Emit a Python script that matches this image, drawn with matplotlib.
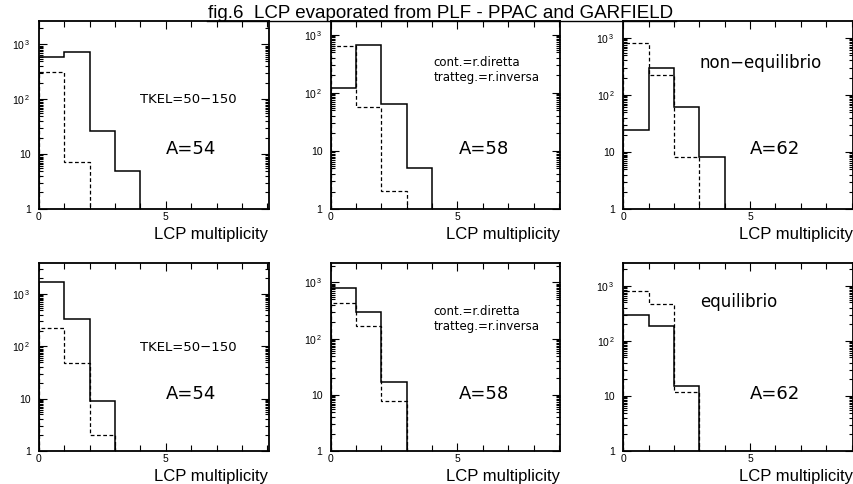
import numpy as np
import matplotlib
matplotlib.use("Agg")
import matplotlib.pyplot as plt
from matplotlib.ticker import FixedLocator, FixedFormatter, NullFormatter
from matplotlib.lines import Line2D

plt.rcParams['font.family'] = ['Liberation Sans', 'DejaVu Sans']

# histogram contents, bins of width 1 starting at 0 (empty bins left out)
solid_vals = [
    [580, 735, 26, 5],
    [121, 673, 65, 5],
    [24, 300, 62, 8],
    [1680, 330, 9],
    [800, 293, 17],
    [293, 185, 15],
]
dashed_vals = [
    [318, 7.1],
    [650, 58, 2.05],
    [810, 225, 8],
    [226, 48, 2.0],
    [430, 165, 7.9],
    [822, 477, 12],
]
y_top = [2660, 1717, 1960, 3980, 2265, 2660]
a_labels = ["A=54", "A=58", "A=62", "A=54", "A=58", "A=62"]
title = "fig.6  LCP evaporated from PLF - PPAC and GARFIELD"

fig = plt.figure(figsize=(8.54, 4.84), dpi=100, facecolor='w')

W, H = 854.0, 484.0
lefts = [39, 330.7, 623.3]
tops = [21, 262.5]
bottoms = [209, 451]
aw = 229.5

axes = []
for r in range(2):
    for c in range(3):
        ax = fig.add_axes([lefts[c] / W, 1 - bottoms[r] / H, aw / W,
                           (bottoms[r] - tops[r]) / H])
        axes.append(ax)

for i, ax in enumerate(axes):
    s = solid_vals[i]
    d = dashed_vals[i]
    ax.stairs(s, np.arange(len(s) + 1), baseline=1, color='k', lw=1.1)
    ax.stairs(d, np.arange(len(d) + 1), baseline=1, color='k', lw=0.9,
              linestyle=(0, (3, 2)))
    ax.set_yscale('log')
    ax.set_xlim(0, 9.05)
    ax.set_ylim(1, y_top[i])

    ax.xaxis.set_major_locator(FixedLocator([0, 5]))
    ax.xaxis.set_major_formatter(FixedFormatter(["0", "5"]))
    ax.xaxis.set_minor_locator(FixedLocator([1, 2, 3, 4, 6, 7, 8, 9]))
    ax.yaxis.set_major_locator(FixedLocator([1, 10, 100, 1000]))
    ax.yaxis.set_major_formatter(FixedFormatter(
        ["1", "10", r"$\mathregular{10^{\,2}}$", r"$\mathregular{10^{\,3}}$"]))
    subs = [2, 3, 4, 5, 5.5, 6, 6.5, 7, 7.5, 8, 8.5, 9, 9.5]
    minors = [b * m for b in [1, 10, 100, 1000] for m in subs]
    ax.yaxis.set_minor_locator(FixedLocator(minors))
    ax.yaxis.set_minor_formatter(NullFormatter())

    ax.tick_params(which='both', direction='in', top=True, right=True,
                   labelsize=7.5, width=0.8)
    ax.tick_params(axis='x', which='major', length=6, pad=2)
    ax.tick_params(axis='x', which='minor', length=4)
    ax.tick_params(axis='y', which='major', length=6, pad=6)
    ax.tick_params(axis='y', which='minor', length=3)
    for sp in ax.spines.values():
        sp.set_linewidth(1.3)

    ax.set_xlabel("LCP multiplicity", loc='right', fontsize=12, labelpad=4)

    ax.text(0.553 if i % 3 != 1 else 0.557, 0.32 if i < 3 else 0.3,
            a_labels[i], transform=ax.transAxes, fontsize=13,
            family='DejaVu Sans', va='center', ha='left')

# panel notes
for k in (0, 3):
    ax = axes[k]
    ax.text(0.441, 0.584 if k == 0 else 0.548, "TKEL=50\u2212150",
            transform=ax.transAxes, fontsize=9.5, family='DejaVu Sans',
            va='center', ha='left')
for k, (y1, y2) in zip((1, 4), ((0.778, 0.697), (0.740, 0.662))):
    ax = axes[k]
    ax.text(0.447, y1, "cont.=r.diretta", transform=ax.transAxes,
            fontsize=8.5, family='DejaVu Sans', va='center', ha='left')
    ax.text(0.447, y2, "tratteg.=r.inversa", transform=ax.transAxes,
            fontsize=8.5, family='DejaVu Sans', va='center', ha='left')
axes[2].text(0.334, 0.778, "non\u2212equilibrio", transform=axes[2].transAxes,
             fontsize=12, family='DejaVu Sans', va='center', ha='left')
axes[5].text(0.334, 0.793, "equilibrio", transform=axes[5].transAxes,
             fontsize=12, family='DejaVu Sans', va='center', ha='left')

fig.text(441 / W, 1 - 18.5 / H, title, ha='center', va='baseline',
         fontsize=13.5)
fig.add_artist(Line2D([207 / W, 676 / W], [1 - 20.5 / H, 1 - 20.5 / H],
                      color='k', lw=1.0, transform=fig.transFigure))

fig.savefig("out.png", dpi=100)
